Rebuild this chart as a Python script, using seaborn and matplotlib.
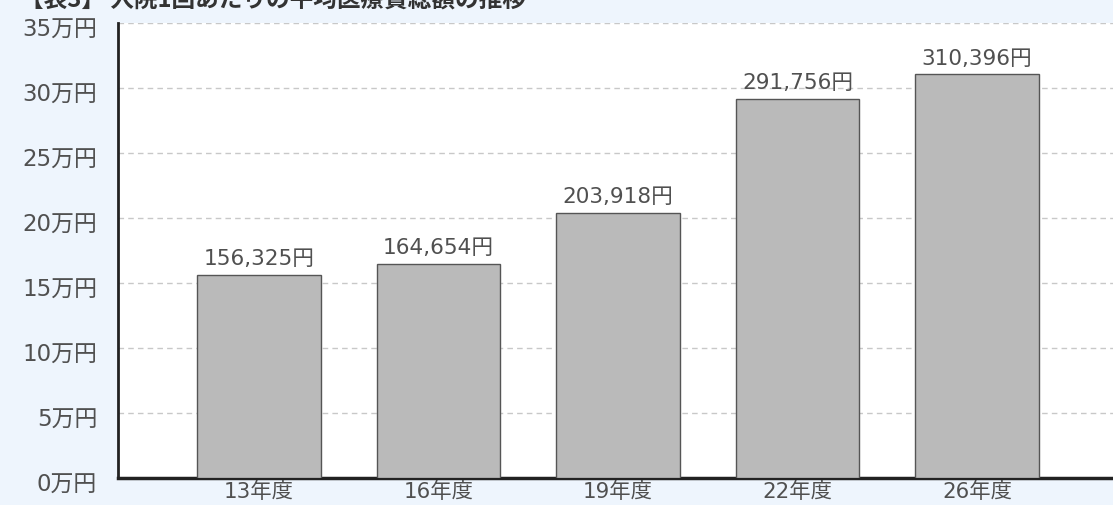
import matplotlib
matplotlib.use("Agg")
import matplotlib.pyplot as plt
import matplotlib.transforms as mtransforms
import seaborn as sns
import pandas as pd

# chart data
years = ["13年度", "16年度", "19年度", "22年度", "26年度"]
amounts = [156325, 164654, 203918, 291756, 310396]
y_ticks = [0, 5, 10, 15, 20, 25, 30, 35]
title = "【表3】 入院1回あたりの平均医療費総額の推移"

sns.set_style("white")
plt.rcParams['font.family'] = ['DejaVu Sans', 'Noto Sans CJK JP']

df = pd.DataFrame({"year": years, "man": [a / 10000 for a in amounts]})

fig = plt.figure(figsize=(11.13, 5.05), dpi=100, facecolor="#eef5fd")
ax = fig.add_axes([118 / 1113, 27 / 505, 995 / 1113, 455 / 505])
ax.set_facecolor("white")

sns.barplot(data=df, x="year", y="man", color="#bababa", edgecolor="#555555",
            linewidth=1, width=0.69, saturation=1, ax=ax, zorder=3)

ax.set_xlim(-0.786, 4.758)
ax.set_ylim(0, 35)
ax.set_yticks(y_ticks)
ax.set_yticklabels([f"{t}万円" for t in y_ticks], fontsize=16.5, color="#505050")
ax.tick_params(axis="x", labelsize=15.4, colors="#505050", length=0, pad=3)
ax.tick_params(axis="y", length=0, pad=15)
ax.set_xlabel("")
ax.set_ylabel("")

# y labels sit a little below their gridlines in the original
shift = mtransforms.ScaledTranslation(0, -5 / 100, fig.dpi_scale_trans)
for lbl in ax.get_yticklabels():
    lbl.set_transform(lbl.get_transform() + shift)

ax.grid(axis="y", color="#c8c8c8", linestyle=(0, (4, 3)), linewidth=1, zorder=0)
for s in ["top", "right"]:
    ax.spines[s].set_visible(False)
ax.spines["left"].set_color("#222222")
ax.spines["left"].set_linewidth(2)
ax.spines["bottom"].set_color("#222222")
ax.spines["bottom"].set_linewidth(2.5)

ax.bar_label(ax.containers[0], labels=[f"{a:,}円" for a in amounts],
             padding=4, fontsize=15.6, color="#505050")

# title sits mostly above the visible canvas
fig.text(0.018, 1.0, title, fontsize=17, fontweight="bold", color="#333333",
         family=['Noto Sans CJK JP', 'DejaVu Sans'], va="center", ha="left")

fig.savefig("out.png", dpi=100, facecolor=fig.get_facecolor())
